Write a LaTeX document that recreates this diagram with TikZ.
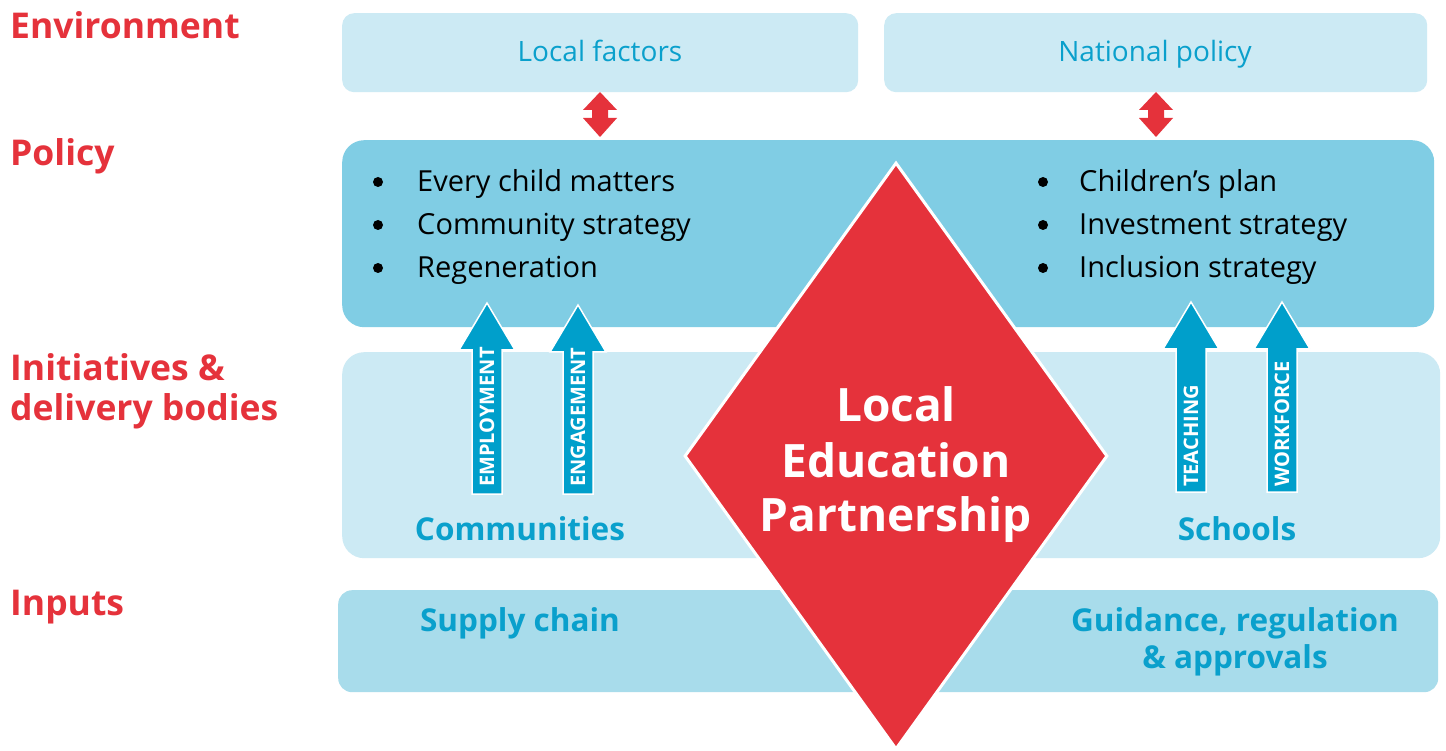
\documentclass[tikz,border=0pt]{standalone}
\usepackage{fontspec}
\setmainfont{Open Sans}
\usetikzlibrary{shapes.geometric}
\definecolor{paleblue}{HTML}{CCEAF4}
\definecolor{midblue}{HTML}{80CDE4}
\definecolor{inblue}{HTML}{A8DCEB}
\definecolor{deepblue}{HTML}{009FCB}
\definecolor{textblue}{HTML}{0AA0CC}
\definecolor{lepred}{HTML}{E5323B}
\newcommand{\fs}[1]{\fontsize{#1}{#1}\selectfont}
% up arrow with a white rim: centre x, tip y, bottom y
\newcommand{\liftarrow}[3]{%
  \fill[deepblue, draw=white, line width=1.5pt, line join=miter]
    (#1-15,#3) -- (#1-15,#2+47) -- (#1-28,#2+47) -- (#1,#2)
    -- (#1+28,#2+47) -- (#1+15,#2+47) -- (#1+15,#3) -- cycle;}
% red two-way arrow: centre x, top y
\newcommand{\linkarrow}[2]{%
  \fill[lepred]
    (#1,#2) -- (#1+17,#2+18) -- (#1+8,#2+18) -- (#1+8,#2+26) -- (#1+17,#2+26)
    -- (#1,#2+45) -- (#1-17,#2+26) -- (#1-8,#2+26) -- (#1-8,#2+18) -- (#1-17,#2+18) -- cycle;}
\begin{document}
\begin{tikzpicture}[x=1pt,y=-1pt,
  band/.style={anchor=north west, inner sep=0pt, draw=none},
  level/.style={anchor=base west, inner sep=0pt, text=lepred, font=\fs{35.5}\bfseries},
  dot/.style={circle, fill=black, inner sep=0pt, minimum size=10pt},
  item/.style={anchor=base west, inner sep=0pt, font=\fs{29}},
  envtext/.style={anchor=base, inner sep=0pt, text=textblue, font=\fs{28}},
  area/.style={anchor=base, inner sep=0pt, text=textblue, font=\fs{31.5}\bfseries},
  leptext/.style={anchor=base, inner sep=0pt, text=white, font=\fs{46}\bfseries},
  flow/.style={anchor=west, rotate=90, inner sep=0pt, text=white, font=\fs{20}\bfseries}]
\useasboundingbox (0,0) rectangle (1446,751);
\fill[white] (0,0) rectangle (1446,751);

% level headings
\node[level] (henv) at (10,39) {Environment};
\node[level] (hpol) at (10,166) {Policy};
\node[level] (hini) at (10,380) {Initiatives \&};
\node[level] (hdel) at (10,420) {delivery bodies};
\node[level] (hinp) at (10,615) {Inputs};

% environment boxes
\node[band, fill=paleblue, rounded corners=12pt, minimum width=516pt, minimum height=79pt] (local) at (342,13) {};
\node[envtext] (localtxt) at (600,62) {Local factors};
\node[band, fill=paleblue, rounded corners=12pt, minimum width=543pt, minimum height=79pt] (national) at (884,13) {};
\node[envtext] (nattxt) at (1155,62) {National policy};

% policy, delivery and input bands
\node[band, fill=midblue, rounded corners=22pt, minimum width=1092pt, minimum height=187pt] (policy) at (342,140) {};
\node[band, fill=paleblue, rounded corners=22pt, minimum width=1098pt, minimum height=206pt] (delivery) at (342,352) {};
\node[band, fill=inblue, rounded corners=14pt, minimum width=1100pt, minimum height=102pt] (inputs) at (338,590) {};

% links between environment and policy
\linkarrow{600}{92}
\linkarrow{1156}{92}

% policy items
\node[dot] (b1) at (378,182) {};
\node[dot] (b2) at (378,225) {};
\node[dot] (b3) at (378,268) {};
\node[item] (p1) at (417,192) {Every child matters};
\node[item] (p2) at (417,235) {Community strategy};
\node[item] (p3) at (417,278) {Regeneration};
\node[dot] (b4) at (1043,182) {};
\node[dot] (b5) at (1043,225) {};
\node[dot] (b6) at (1043,268) {};
\node[item] (p4) at (1079,192) {Children’s plan};
\node[item] (p5) at (1079,235) {Investment strategy};
\node[item] (p6) at (1079,278) {Inclusion strategy};

% upward arrows into policy
\liftarrow{487}{303}{494}
\liftarrow{578}{305}{494}
\liftarrow{1191}{302}{492}
\liftarrow{1282}{302}{492}
\node[flow] (employment) at (487,487) {EMPLOYMENT};
\node[flow] (engagement) at (578,487) {ENGAGEMENT};
\node[flow] (teaching) at (1191,487) {TEACHING};
\node[flow] (workforce) at (1282,487) {WORKFORCE};

% delivery and input labels
\node[area] (communities) at (520,540) {Communities};
\node[area] (schools) at (1237,540) {Schools};
\node[area] (supply) at (520,631) {Supply chain};
\node[area] (guidance) at (1235,631) {Guidance, regulation};
\node[area] (approvals) at (1235,668) {\& approvals};

% the partnership at the centre
\node[diamond, fill=lepred, draw=white, line width=3pt, inner sep=0pt,
      minimum width=423pt, minimum height=587pt] (lep) at (896,456) {};
\node[leptext] (lep1) at (896,421) {Local};
\node[leptext] (lep2) at (896,477) {Education};
\node[leptext] (lep3) at (896,531) {Partnership};
\end{tikzpicture}
\end{document}
